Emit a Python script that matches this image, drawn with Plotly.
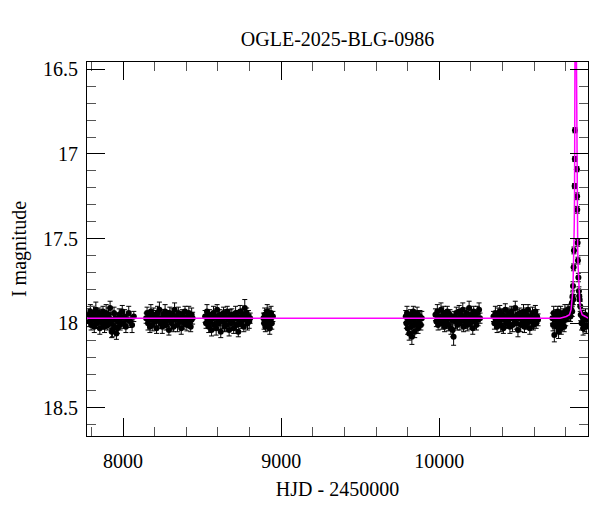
import plotly.graph_objects as go

# ---- Observations: HJD - 2450000, I magnitude, error ----
t1 = [7783,7788,7793,7798,7803,7808,7813,7818,7823,7828,7833,7838,7843,7848,7853,7858,7863,7868,7873,7878,
      7883,7888,7893,7898,7903,7908,7913,7918,7923,7928,7933,7938,7943,7948,7953,7958,7964,7970,7976,7982,
      7988,7995,8002,8010,8018,8027,8036,8046,8057,8068]
m1 = [17.95,17.99,17.93,18.01,17.96,17.98,17.94,18.02,17.97,17.92,18.00,17.96,17.99,17.94,18.03,17.97,17.95,18.00,17.93,17.98,
      18.02,17.96,17.94,17.99,18.01,17.95,17.97,17.91,18.00,18.05,18.04,17.98,17.94,18.02,17.97,18.06,18.03,17.99,17.95,18.01,
      17.97,17.93,18.00,17.96,18.02,17.98,17.94,17.99,18.01,17.96]
e1 = [0.035,0.03,0.04,0.03,0.035,0.03,0.04,0.035,0.03,0.045,0.03,0.035,0.04,0.03,0.035,0.04,0.03,0.035,0.03,0.04,
      0.035,0.03,0.05,0.035,0.03,0.04,0.035,0.04,0.03,0.035,0.04,0.03,0.035,0.04,0.03,0.035,0.03,0.04,0.035,0.03,
      0.04,0.035,0.03,0.04,0.035,0.03,0.04,0.035,0.045,0.03]

t2 = [8146,8152,8158,8164,8170,8176,8182,8188,8194,8200,8206,8212,8218,8224,8230,8236,8242,8248,8254,8260,
      8266,8272,8278,8284,8290,8296,8302,8308,8314,8320,8326,8332,8338,8344,8350,8356,8362,8368,8374,8380,
      8386,8392,8398,8404,8410,8416,8422,8428,8434,8440]
m2 = [17.97,17.94,18.00,17.96,18.02,17.93,17.98,18.01,17.95,17.99,17.96,18.03,17.94,17.98,17.92,18.00,17.97,18.02,17.95,17.99,
      17.93,18.01,17.96,17.98,18.04,17.94,17.97,18.00,17.95,18.02,17.92,17.98,17.96,18.01,17.94,17.99,17.97,18.03,17.95,17.98,
      18.00,17.93,17.97,18.01,17.96,17.94,17.99,18.02,17.95,17.97]
e2 = [0.03,0.035,0.04,0.03,0.035,0.04,0.03,0.035,0.04,0.03,0.035,0.03,0.04,0.035,0.045,0.03,0.035,0.04,0.03,0.035,
      0.04,0.03,0.035,0.04,0.03,0.035,0.03,0.04,0.035,0.03,0.04,0.035,0.03,0.04,0.035,0.03,0.04,0.035,0.03,0.04,
      0.035,0.03,0.04,0.035,0.03,0.04,0.035,0.03,0.04,0.035]

t3 = [8519,8525,8531,8537,8542,8548,8554,8560,8566,8572,8577,8583,8589,8595,8601,8607,8612,8618,8624,8630,
      8636,8642,8647,8653,8659,8665,8671,8677,8682,8688,8694,8700,8706,8712,8717,8723,8729,8735,8741,8747,
      8752,8758,8764,8770,8776,8782,8787,8793,8798,8804]
m3 = [17.96,18.00,17.93,17.98,18.02,17.95,17.99,18.04,17.97,17.94,18.01,17.96,18.03,17.92,17.98,18.00,17.95,18.05,17.97,17.99,
      17.94,18.02,17.96,18.01,17.93,17.98,18.04,17.96,18.00,17.95,17.99,18.03,17.97,17.94,18.01,17.96,18.05,17.98,17.93,18.00,
      17.97,17.95,18.02,17.91,17.98,17.94,18.00,17.96,17.99,17.97]
e3 = [0.035,0.03,0.04,0.03,0.035,0.03,0.04,0.035,0.03,0.04,0.03,0.035,0.04,0.03,0.035,0.04,0.03,0.035,0.03,0.04,
      0.035,0.03,0.04,0.035,0.03,0.04,0.035,0.04,0.03,0.035,0.04,0.03,0.035,0.04,0.03,0.035,0.03,0.04,0.035,0.03,
      0.04,0.035,0.03,0.05,0.035,0.03,0.04,0.035,0.04,0.03]

t4 = [8888,8892,8896,8900,8904,8908,8912,8916,8920,8924,8928,8932,8936,8941,8948]
m4 = [17.97,18.00,17.95,18.02,17.96,17.99,17.93,18.01,17.97,17.95,18.03,17.98,17.94,18.00,17.96]
e4 = [0.03,0.035,0.04,0.03,0.035,0.03,0.04,0.035,0.03,0.04,0.035,0.03,0.04,0.035,0.03]

t5 = [9788,9792,9796,9800,9805,9810,9814,9818,9822,9827,9832,9836,9840,9845,9850,9855,9860,9866,9872,9878,9884,9890]
m5 = [17.96,18.00,17.94,18.03,17.97,18.06,17.99,17.95,18.02,18.08,17.98,17.93,18.01,18.05,17.96,18.00,17.94,18.03,17.98,17.96,18.01,17.97]
e5 = [0.035,0.03,0.04,0.035,0.03,0.04,0.035,0.03,0.04,0.045,0.035,0.03,0.04,0.035,0.03,0.04,0.035,0.03,0.04,0.035,0.03,0.04]

t6 = [9976,9982,9988,9993,9999,10005,10011,10016,10022,10028,10034,10039,10045,10051,10057,10062,10068,10074,10080,10085,
      10091,10097,10103,10108,10114,10120,10126,10131,10137,10143,10149,10154,10160,10166,10172,10177,10183,10189,10195,10200,
      10206,10212,10218,10223,10229,10235,10241,10246,10252,10258]
m6 = [17.95,17.99,17.93,18.01,17.96,17.98,17.92,18.00,17.97,17.94,18.02,17.96,17.99,17.93,18.01,17.97,17.95,18.03,17.98,18.04,
      18.08,17.96,17.99,17.94,18.01,17.97,17.93,18.00,17.95,17.98,17.92,18.02,17.96,17.99,17.94,18.01,17.97,17.91,18.00,17.95,
      17.98,18.03,17.93,17.99,17.96,18.01,17.94,17.98,17.92,17.97]
e6 = [0.035,0.03,0.04,0.03,0.035,0.03,0.04,0.035,0.03,0.04,0.03,0.035,0.04,0.03,0.035,0.04,0.03,0.035,0.03,0.04,
      0.05,0.03,0.04,0.035,0.03,0.04,0.035,0.04,0.03,0.035,0.04,0.03,0.035,0.04,0.03,0.035,0.03,0.04,0.035,0.03,
      0.04,0.035,0.03,0.04,0.035,0.03,0.04,0.035,0.04,0.03]

t7 = [10343,10349,10355,10360,10366,10372,10378,10383,10389,10395,10401,10406,10412,10418,10424,10429,10435,10441,10447,10452,
      10458,10464,10470,10475,10481,10487,10493,10498,10504,10510,10516,10521,10527,10533,10539,10544,10550,10556,10562,10567,
      10573,10579,10585,10590,10596,10602,10608,10613,10619,10625]
m7 = [17.96,18.00,17.94,17.98,18.02,17.95,17.99,17.93,18.01,17.97,17.95,18.03,17.98,17.92,18.00,17.96,17.99,17.94,18.02,17.97,
      17.93,18.01,17.96,17.98,17.91,18.00,17.95,18.04,17.97,17.94,18.01,17.96,17.99,17.93,18.02,17.97,17.95,18.00,17.92,17.98,
      18.03,17.96,17.99,17.94,18.01,17.97,17.93,18.00,17.96,17.98]
e7 = [0.03,0.035,0.04,0.03,0.035,0.04,0.03,0.035,0.04,0.03,0.035,0.03,0.04,0.035,0.03,0.04,0.035,0.03,0.04,0.035,
      0.03,0.04,0.035,0.03,0.04,0.035,0.03,0.04,0.035,0.03,0.04,0.035,0.03,0.04,0.035,0.03,0.04,0.035,0.03,0.04,
      0.035,0.03,0.04,0.035,0.03,0.04,0.035,0.03,0.04,0.035]

t8 = [10716,10720,10724,10728,10733,10738,10742,10746,10750,10755,10760,10764,10768,10772,10777,10782,10786,10790,10795,10800,
      10805,10810,10815,10820,10826,10830,10834,10839,10841,10843,10846,10848,10850,10852,10856.5,10857.7,10858.7,
      10870.7,10872.1,10873,10875.5,10877.5,10880,10883.5,10886,10888,10892,10895,
      10900,10905,10910,10915,10920,10925,10930,10935]
m8 = [17.97,18.01,17.94,18.07,17.98,17.95,18.02,17.99,17.93,18.05,17.97,18.00,17.94,18.03,17.96,17.99,17.95,18.02,17.93,17.98,
      17.96,17.94,17.92,17.95,17.93,17.96,17.92,17.88,17.93,17.84,17.78,17.86,17.67,17.57,17.19,17.03,16.86,
      17.09,17.25,17.33,17.525,17.63,17.73,17.81,17.84,17.86,17.90,17.95,
      18.00,17.96,18.03,17.97,18.01,17.95,18.02,17.98]
e8 = [0.03,0.035,0.04,0.04,0.035,0.03,0.04,0.035,0.03,0.04,0.035,0.03,0.04,0.035,0.03,0.04,0.035,0.03,0.04,0.035,
      0.03,0.035,0.03,0.035,0.03,0.03,0.035,0.03,0.03,0.025,0.025,0.03,0.02,0.02,0.015,0.015,0.015,
      0.015,0.02,0.02,0.02,0.02,0.025,0.025,0.03,0.03,0.03,0.035,
      0.04,0.035,0.04,0.035,0.04,0.035,0.04,0.035]

# ---- Model light curve ----
model_t = [7772,10764,10804,10824,10834,10839,10844,10847,10850,10852,10854,10856,10857,10858,10859,
           10860,10861,10862,10863,10864,10865,10866,10867,10868,10869,10870,10871,10872,10874,10876,
           10878,10881,10884,10889,10894,10904,10924,10941]
model_m = [17.97,17.97,17.96,17.95,17.92,17.88,17.82,17.75,17.65,17.56,17.42,17.24,17.13,16.99,16.81,
           16.59,16.31,15.91,15.32,14.72,15.32,15.91,16.31,16.59,16.81,16.99,17.13,17.24,17.42,17.56,
           17.65,17.75,17.82,17.88,17.92,17.95,17.96,17.97]

obs_t = t1 + t2 + t3 + t4 + t5 + t6 + t7 + t8
obs_m = m1 + m2 + m3 + m4 + m5 + m6 + m7 + m8
obs_e = e1 + e2 + e3 + e4 + e5 + e6 + e7 + e8

FONT = "Liberation Serif"
FS = 20

fig = go.Figure()
fig.add_trace(go.Scatter(
    x=obs_t, y=obs_m, mode="markers",
    marker=dict(color="black", size=6, line=dict(width=0)),
    error_y=dict(type="data", array=obs_e, visible=True, color="black", thickness=1, width=2.5),
    showlegend=False, hoverinfo="skip"))
fig.add_trace(go.Scatter(
    x=model_t, y=model_m, mode="lines",
    line=dict(color="#ff00ff", width=1.5),
    showlegend=False, hoverinfo="skip"))

axis_common = dict(
    showgrid=False, zeroline=False, showline=True, linecolor="black", linewidth=1,
    mirror="ticks", ticks="inside", ticklen=18, tickwidth=1, tickcolor="black",
    tickfont=dict(family=FONT, size=FS, color="black"), automargin=False,
)

# the page body adds an 8 px offset, so the figure is 8 px smaller on each side
W, H = 592, 504
fig.update_layout(
    width=W, height=H,
    margin=dict(l=79, r=12, t=54, b=76),
    paper_bgcolor="white", plot_bgcolor="white",
    title=dict(text="OGLE-2025-BLG-0986", x=0.5, xref="paper", xanchor="center",
               y=1 - 31 / H, yref="container", yanchor="middle",
               font=dict(family=FONT, size=FS, color="black")),
    xaxis=dict(axis_common, range=[7772, 10941], tick0=0, dtick=1000, tickformat="d",
               minor=dict(dtick=200, tick0=0, ticks="inside", ticklen=9, tickcolor="#555", tickwidth=1),
               ticklabelstandoff=7,
               title=dict(text="HJD - 2450000", standoff=10, font=dict(family=FONT, size=FS, color="black"))),
    yaxis=dict(axis_common, range=[18.666, 16.457], tick0=16.5, dtick=0.5,
               minor=dict(dtick=0.1, tick0=16.5, ticks="inside", ticklen=9, tickcolor="#555", tickwidth=1),
               ticklabelstandoff=4,
               title=dict(text="I magnitude", standoff=15, font=dict(family=FONT, size=FS, color="black"))),
)

fig.write_html("out.html")
